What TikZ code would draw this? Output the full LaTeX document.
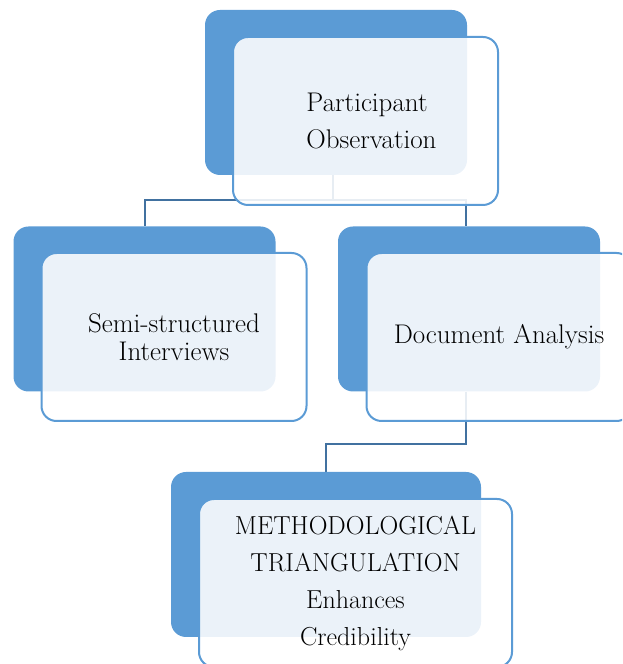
\documentclass[tikz,border=0pt]{standalone}
\usepackage{tikz}
\usetikzlibrary{backgrounds}
\definecolor{boxblue}{RGB}{91,155,213}
\definecolor{linkblue}{RGB}{65,113,160}
\tikzstyle{backbox}=[
        fill=boxblue,
        rounded corners=15pt,
        minimum width=262pt,
        minimum height=165pt
]
\tikzstyle{frontbox}=[
        draw=boxblue,
        line width=2pt,
        fill=white,
        fill opacity=0.88,
        text opacity=1,
        rounded corners=15pt,
        minimum width=265pt,
        minimum height=168pt,
        align=center,
        font=\fontsize{27}{37}\selectfont
]
\tikzstyle{link}=[
        draw=linkblue,
        line width=2pt
]

\begin{document}
\begin{tikzpicture}[x=1pt,y=1pt]
                        \clip (0,0) rectangle (622,664);
                        \useasboundingbox (0,0) rectangle (622,664);

                        \node[backbox] (obsback) at (336,571.5) {};
                        \node[frontbox, align=left] (obs) at (365.5,543) {\hspace*{12pt}Participant\\ \hspace*{12pt}Observation};

                        \node[backbox] (semiback) at (144.5,355) {};
                        \node[frontbox, font=\fontsize{27}{28}\selectfont] (semi) at (174,327) {Semi-structured\\Interviews};

                        \node[backbox] (docback) at (469,355) {};
                        \node[frontbox] (doc) at (499,327) {Document Analysis};

                        \node[backbox, minimum width=310pt] (triback) at (326,109.5) {};
                        \node[frontbox, minimum width=313pt, font=\fontsize{26}{37}\selectfont] (tri) at (355.5,81) {METHODOLOGICAL\\TRIANGULATION\\Enhances\\Credibility};

                        \begin{scope}[on background layer]
                        \draw[link] ([xshift=-3pt]obsback.south) -- ++(0,-25) coordinate (split);
                        \draw[link] (split) -| (semiback.north);
                        \draw[link] (split) -| ([xshift=-3pt]docback.north);
                        \draw[link] ([xshift=-3pt]docback.south) -- ++(0,-52) -| (triback.north);
                        \end{scope}

                    \end{tikzpicture}
\end{document}
